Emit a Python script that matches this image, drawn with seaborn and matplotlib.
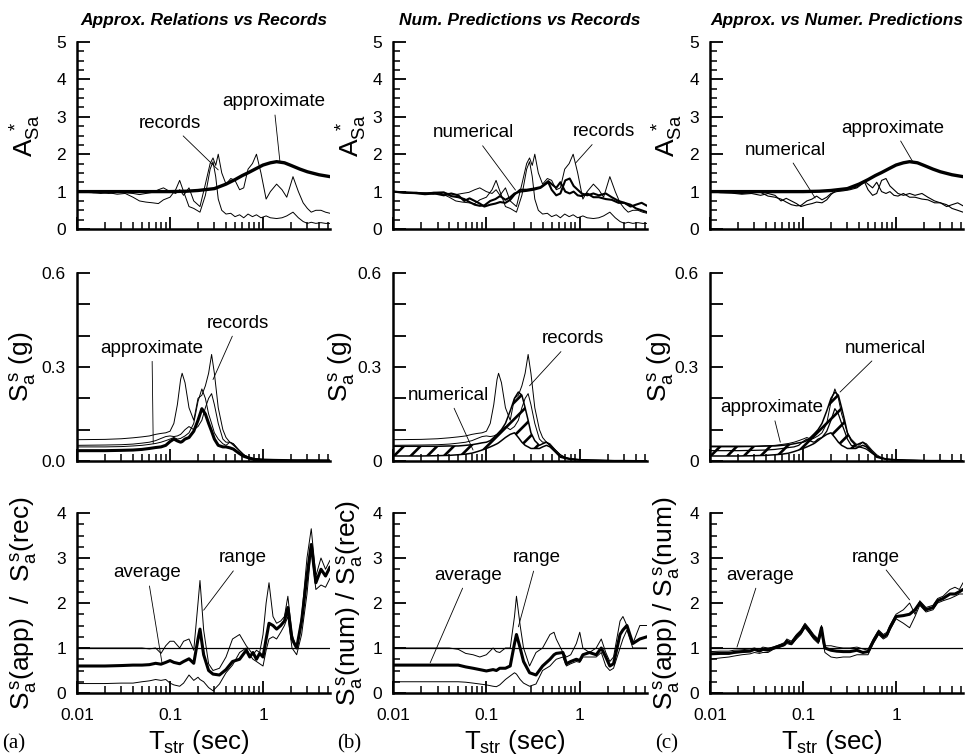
import numpy as np
import pandas as pd
import matplotlib
matplotlib.use("Agg")
import matplotlib.pyplot as plt
from matplotlib.ticker import FixedLocator, MultipleLocator, LogLocator, NullFormatter, FixedFormatter
import seaborn as sns

# ---------------------------------------------------------------- data
# Row 1: spectral amplification A*_Sa
T_rec = [0.01, 0.012, 0.015, 0.018, 0.022, 0.027, 0.033, 0.04, 0.047, 0.055, 0.065, 0.075,
         0.085, 0.1, 0.115, 0.127, 0.14, 0.16, 0.18, 0.21, 0.24, 0.27, 0.29, 0.31, 0.33, 0.36,
         0.4, 0.45, 0.5, 0.56, 0.62, 0.69, 0.77, 0.85, 0.95, 1.08, 1.2, 1.4, 1.6, 1.8, 2.1,
         2.4, 2.7, 3.0, 3.3, 3.7, 4.2, 4.7, 5.25]
A_rec1 = [1.0, 0.98, 0.97, 0.95, 0.97, 0.93, 0.95, 0.85, 0.75, 0.72, 0.7, 0.68,
          0.78, 0.85, 1.05, 1.3, 1.0, 0.6, 0.55, 0.45, 0.9, 1.6, 1.8, 1.4, 0.8, 0.5,
          0.4, 0.42, 0.33, 0.38, 0.3, 0.4, 0.33, 0.38, 0.3, 0.35, 0.3, 0.28, 0.3, 0.35, 0.45,
          0.3, 0.2, 0.15, 0.18, 0.15, 0.17, 0.15, 0.15]
A_rec2 = [1.0, 1.0, 0.97, 0.98, 0.95, 0.98, 0.97, 0.95, 0.92, 0.95, 0.98, 1.05,
          1.1, 1.0, 0.95, 1.05, 0.9, 1.1, 0.75, 0.6, 1.2, 1.75, 1.9, 1.7, 2.0, 1.5,
          1.2, 1.35, 1.3, 1.05, 1.1, 1.6, 1.75, 2.0, 1.5, 0.8, 1.0, 1.2, 1.05, 0.85, 1.4,
          1.0, 0.7, 0.55, 0.45, 0.5, 0.5, 0.45, 0.42]

T_app = [0.01, 0.03, 0.06, 0.1, 0.15, 0.2, 0.3, 0.4, 0.5, 0.6, 0.7, 0.85, 1.0, 1.2,
         1.4, 1.7, 2.0, 2.5, 3.0, 4.0, 5.25]
A_app = [1.0, 1.0, 1.0, 1.0, 1.01, 1.03, 1.08, 1.2, 1.32, 1.43, 1.51, 1.62, 1.71, 1.77,
         1.8, 1.77, 1.7, 1.6, 1.53, 1.45, 1.4]

T_num = [0.01, 0.013, 0.017, 0.022, 0.028, 0.035, 0.042, 0.05, 0.058, 0.066, 0.075, 0.085,
         0.095, 0.11, 0.125, 0.14, 0.16, 0.18, 0.2, 0.23, 0.27, 0.32, 0.38, 0.42, 0.46, 0.5,
         0.56, 0.62, 0.7, 0.78, 0.86, 0.95, 1.05, 1.2, 1.4, 1.6, 1.9, 2.2, 2.6, 3.0, 3.5,
         4.0, 4.6, 5.25]
A_num1 = [1.0, 0.98, 0.97, 0.95, 0.97, 0.98, 0.88, 0.85, 0.8, 0.72, 0.65, 0.62,
          0.63, 0.75, 0.8, 0.88, 0.78, 0.85, 0.95, 1.0, 1.02, 1.05, 1.1, 1.18, 1.25, 1.05,
          0.9, 0.95, 1.3, 1.35, 1.15, 1.05, 0.95, 0.9, 0.95, 0.9, 0.95, 0.85, 0.75, 0.7, 0.6,
          0.65, 0.7, 0.62]
A_num2 = [1.0, 0.97, 0.96, 0.93, 0.95, 0.9, 0.95, 0.9, 0.75, 0.82, 0.75, 0.68,
          0.6, 0.65, 0.68, 0.72, 0.7, 0.78, 0.92, 1.05, 1.05, 1.08, 1.12, 1.2, 1.28, 1.2,
          1.1, 1.25, 1.0, 0.95, 1.0, 0.9, 0.88, 0.95, 0.85, 0.85, 0.8, 0.78, 0.7, 0.7, 0.65,
          0.55, 0.5, 0.45]

# Row 2: structural spectral acceleration Sa (g)
T_sa = [0.01, 0.02, 0.03, 0.04, 0.05, 0.06, 0.07, 0.08, 0.09, 0.1, 0.11, 0.12, 0.13, 0.135,
        0.145, 0.16, 0.18, 0.2, 0.22, 0.24, 0.26, 0.28, 0.3, 0.33, 0.37, 0.4, 0.44, 0.48,
        0.55, 0.62, 0.7, 0.8, 1.0, 1.3, 2.0, 3.0, 5.25]
Sa_rec1 = [0.068, 0.069, 0.071, 0.074, 0.077, 0.08, 0.085, 0.088, 0.09, 0.095, 0.12, 0.18,
           0.26, 0.28, 0.25, 0.17, 0.13, 0.2, 0.21, 0.24, 0.28, 0.34, 0.28, 0.17, 0.1, 0.075,
           0.06, 0.055, 0.035, 0.02, 0.012, 0.008, 0.005, 0.003, 0.002, 0.001, 0.001]
Sa_rec2 = [0.05, 0.051, 0.052, 0.054, 0.057, 0.06, 0.065, 0.072, 0.078, 0.08, 0.078, 0.08,
           0.085, 0.09, 0.1, 0.11, 0.1, 0.11, 0.13, 0.17, 0.2, 0.215, 0.18, 0.12, 0.07, 0.06,
           0.06, 0.05, 0.035, 0.02, 0.01, 0.006, 0.004, 0.003, 0.002, 0.001, 0.001]
Sa_app1 = [0.045, 0.045, 0.046, 0.048, 0.05, 0.053, 0.056, 0.06, 0.065, 0.07, 0.075, 0.07,
           0.072, 0.075, 0.08, 0.09, 0.12, 0.19, 0.23, 0.2, 0.15, 0.12, 0.09, 0.07, 0.055, 0.05,
           0.06, 0.055, 0.035, 0.02, 0.01, 0.006, 0.004, 0.003, 0.002, 0.001, 0.001]
Sa_app2 = [0.033, 0.033, 0.034, 0.035, 0.037, 0.04, 0.043, 0.045, 0.05, 0.062, 0.07, 0.064,
           0.06, 0.062, 0.07, 0.075, 0.095, 0.13, 0.167, 0.15, 0.12, 0.095, 0.07, 0.05, 0.045,
           0.045, 0.042, 0.038, 0.025, 0.015, 0.01, 0.005, 0.003, 0.002, 0.001, 0.001, 0.0005]
Sa_num_hi = [0.047, 0.047, 0.047, 0.048, 0.048, 0.05, 0.052, 0.055, 0.058, 0.06, 0.065, 0.075,
             0.085, 0.09, 0.1, 0.12, 0.16, 0.2, 0.22, 0.21, 0.17, 0.13, 0.09, 0.065, 0.05,
             0.055, 0.06, 0.05, 0.03, 0.015, 0.01, 0.006, 0.004, 0.002, 0.001, 0.001, 0.0005]
Sa_num_lo = [0.016, 0.016, 0.017, 0.018, 0.02, 0.022, 0.025, 0.03, 0.035, 0.04, 0.045, 0.05,
             0.055, 0.058, 0.065, 0.075, 0.085, 0.09, 0.075, 0.06, 0.05, 0.045, 0.04, 0.04,
             0.04, 0.045, 0.05, 0.045, 0.028, 0.012, 0.008, 0.005, 0.003, 0.002, 0.001, 0.001,
             0.0005]

# Row 3: spectral ratios (average and range)
T_ra = [0.01, 0.02, 0.03, 0.04, 0.05, 0.06, 0.07, 0.08, 0.09, 0.1, 0.11, 0.127, 0.14, 0.16,
        0.18, 0.2, 0.21, 0.23, 0.26, 0.29, 0.34, 0.4, 0.47, 0.56, 0.66, 0.72, 0.78, 0.85,
        0.92, 1.0, 1.08, 1.16, 1.28, 1.4, 1.55, 1.7, 1.85, 2.05, 2.3, 2.6, 2.97, 3.3, 3.7,
        4.2, 4.7, 5.25]
r_app_rec_avg = [0.6, 0.6, 0.61, 0.62, 0.62, 0.63, 0.66, 0.64, 0.68, 0.72, 0.68, 0.65, 0.7,
                 0.76, 0.66, 1.2, 1.42, 0.85, 0.5, 0.42, 0.4, 0.52, 0.7, 0.75, 0.95, 0.8, 0.9,
                 0.75, 0.88, 0.8, 1.2, 1.55, 1.5, 1.42, 1.5, 1.6, 1.9, 1.2, 1.0, 1.6, 2.6, 3.3,
                 2.45, 2.75, 2.6, 2.8]
r_app_rec_hi = [1.0, 1.0, 1.0, 1.0, 1.0, 0.98, 1.0, 0.88, 1.05, 1.15, 1.15, 1.0, 1.15, 1.2,
                0.95, 2.0, 2.5, 1.4, 0.65, 0.5, 0.55, 0.8, 1.2, 1.3, 1.05, 0.95, 0.85, 0.95,
                0.9, 1.3, 2.0, 2.45, 1.7, 1.55, 1.6, 1.7, 2.15, 1.3, 1.0, 1.7, 3.0, 3.65, 2.6,
                3.0, 2.75, 2.95]
r_app_rec_lo = [0.21, 0.21, 0.22, 0.22, 0.25, 0.27, 0.3, 0.28, 0.3, 0.22, 0.18, 0.15, 0.22,
                0.4, 0.28, 0.35, 0.3, 0.25, 0.12, 0.05, 0.2, 0.45, 0.62, 0.9, 1.0, 0.85, 0.75,
                0.7, 0.65, 0.6, 0.95, 1.2, 1.25, 1.2, 1.35, 1.5, 1.7, 1.0, 0.85, 1.3, 2.2, 3.2,
                2.3, 2.4, 2.35, 2.55]

T_rb = [0.01, 0.02, 0.03, 0.04, 0.05, 0.06, 0.072, 0.085, 0.1, 0.118, 0.128, 0.139, 0.16,
        0.18, 0.2, 0.21, 0.23, 0.25, 0.29, 0.34, 0.4, 0.48, 0.53, 0.56, 0.66, 0.72, 0.8,
        0.92, 1.0, 1.08, 1.27, 1.5, 1.7, 1.9, 2.1, 2.3, 2.7, 2.9, 3.2, 3.7, 4.4, 5.25]
r_num_rec_avg = [0.62, 0.62, 0.62, 0.62, 0.62, 0.58, 0.55, 0.52, 0.49, 0.52, 0.5, 0.55, 0.55,
                 0.6, 1.1, 1.3, 1.0, 0.7, 0.45, 0.4, 0.6, 0.75, 0.85, 0.88, 0.9, 0.65, 0.7,
                 0.75, 0.72, 0.85, 0.9, 0.85, 1.0, 0.8, 0.6, 0.65, 1.3, 1.4, 1.5, 1.1, 1.2, 1.25]
r_num_rec_hi = [1.0, 1.0, 1.0, 1.0, 0.97, 0.88, 0.85, 0.8, 0.85, 1.0, 0.92, 0.9, 1.0, 1.0,
                1.7, 2.15, 1.5, 1.0, 0.6, 0.9, 1.0, 1.3, 1.35, 1.2, 0.9, 0.8, 0.85, 1.1, 1.35,
                1.0, 0.9, 1.0, 1.2, 0.9, 0.7, 0.8, 1.6, 1.7, 1.5, 1.1, 1.5, 1.5]
r_num_rec_lo = [0.25, 0.25, 0.25, 0.25, 0.25, 0.24, 0.22, 0.2, 0.18, 0.15, 0.14, 0.18, 0.3,
                0.38, 0.45, 0.42, 0.3, 0.22, 0.15, 0.2, 0.5, 0.6, 0.7, 0.75, 0.8, 0.6, 0.65,
                0.7, 0.68, 0.8, 0.8, 0.8, 0.9, 0.6, 0.5, 0.55, 1.0, 1.2, 1.4, 1.0, 1.0, 1.0]

T_rc = [0.01, 0.013, 0.016, 0.018, 0.022, 0.027, 0.03, 0.034, 0.037, 0.042, 0.048, 0.057,
        0.063, 0.067, 0.075, 0.085, 0.095, 0.105, 0.115, 0.13, 0.146, 0.158, 0.165, 0.172,
        0.2, 0.23, 0.27, 0.32, 0.38, 0.44, 0.5, 0.57, 0.65, 0.73, 0.8, 0.86, 1.0, 1.2, 1.4,
        1.6, 1.8, 2.1, 2.5, 2.8, 3.2, 3.8, 4.3, 4.8, 5.25]
r_app_num_avg = [0.87, 0.88, 0.88, 0.9, 0.92, 0.93, 0.97, 0.93, 0.97, 0.95, 1.0, 1.05, 1.08,
                 1.15, 1.1, 1.25, 1.35, 1.5, 1.4, 1.25, 1.15, 1.45, 1.2, 1.0, 0.95, 0.93, 0.92,
                 0.92, 0.95, 0.9, 0.92, 1.15, 1.35, 1.25, 1.3, 1.45, 1.7, 1.72, 1.75, 1.85, 2.0,
                 1.85, 1.9, 2.05, 2.1, 2.2, 2.2, 2.25, 2.3]
r_app_num_hi = [0.92, 0.93, 0.93, 0.95, 0.96, 0.98, 1.0, 0.97, 1.02, 1.0, 1.02, 1.08, 1.12,
                1.2, 1.15, 1.3, 1.4, 1.55, 1.45, 1.3, 1.2, 1.5, 1.25, 1.05, 1.05, 1.02, 1.0,
                1.0, 1.02, 0.98, 0.95, 1.2, 1.4, 1.3, 1.35, 1.5, 1.75, 1.85, 2.0, 1.75, 2.05,
                1.9, 1.95, 2.1, 2.15, 2.3, 2.35, 2.3, 2.45]
r_app_num_lo = [0.75, 0.78, 0.8, 0.82, 0.85, 0.87, 0.9, 0.88, 0.9, 0.9, 0.97, 1.02, 1.05,
                1.1, 1.07, 1.2, 1.3, 1.45, 1.35, 1.2, 1.1, 1.35, 1.1, 0.9, 0.8, 0.78, 0.8,
                0.8, 0.85, 0.85, 0.85, 1.1, 1.3, 1.2, 1.25, 1.4, 1.65, 1.55, 1.45, 1.7, 1.95,
                1.8, 1.85, 2.0, 2.05, 2.1, 2.15, 2.2, 2.2]

titles = ["Approx. Relations vs Records", "Num. Predictions vs Records",
          "Approx. vs Numer. Predictions"]
panel_tags = ["(a)", "(b)", "(c)"]
x_tick_labels = ["0.01", "0.1", "1"]

# ---------------------------------------------------------------- style
sns.set_theme(style="ticks")
plt.rcParams["font.family"] = ["Liberation Sans", "DejaVu Sans"]
plt.rcParams["mathtext.fontset"] = "custom"
plt.rcParams["mathtext.rm"] = "Liberation Sans"
plt.rcParams["mathtext.it"] = "Liberation Sans:italic"
plt.rcParams["mathtext.bf"] = "Liberation Sans:bold"
plt.rcParams["mathtext.sf"] = "Liberation Sans"
plt.rcParams["hatch.linewidth"] = 1.9
plt.rcParams["axes.linewidth"] = 1.8

W, H = 970, 756
fig = plt.figure(figsize=(W / 100, H / 100), dpi=100)
fig.patch.set_facecolor("white")

col_left = [77, 393, 710]
col_width = [253, 254, 253]
row_top = [42, 273, 513]
row_height = [187, 188, 180]

axes = [[None] * 3 for _ in range(3)]
for r in range(3):
    for c in range(3):
        rect = [col_left[c] / W, 1 - (row_top[r] + row_height[r]) / H,
                col_width[c] / W, row_height[r] / H]
        axes[r][c] = fig.add_axes(rect)


def curve(ax, T, v, lw):
    df = pd.DataFrame({"T": T, "v": v})
    sns.lineplot(data=df, x="T", y="v", ax=ax, color="black", lw=lw,
                 estimator=None, sort=False, legend=False)


def note(ax, text, xy, xytext):
    ax.annotate(text, xy=xy, xytext=xytext, textcoords="data", ha="center", va="center",
                fontsize=13.5, color="black",
                arrowprops=dict(arrowstyle="-", color="black", lw=0.6, shrinkA=1, shrinkB=0))


def band(ax, T, lo, hi):
    ax.fill_between(T, lo, hi, facecolor="none", edgecolor="black", hatch="//", linewidth=0)
    curve(ax, T, hi, 1.1)
    curve(ax, T, lo, 1.1)


def style_axes(ax, r, c):
    ax.set_facecolor("white")
    ax.grid(False)
    ax.set_xscale("log")
    ax.set_xlim(0.01, 5.25)
    for s in ["top", "right"]:
        ax.spines[s].set_visible(False)
    for s in ["left", "bottom"]:
        ax.spines[s].set_linewidth(1.8)
        ax.spines[s].set_color("black")
    ax.xaxis.set_major_locator(FixedLocator([0.01, 0.1, 1]))
    ax.xaxis.set_major_formatter(FixedFormatter(x_tick_labels))
    ax.xaxis.set_minor_locator(LogLocator(base=10, subs=np.arange(2, 10), numticks=30))
    ax.xaxis.set_minor_formatter(NullFormatter())
    ax.tick_params(which="major", direction="in", length=9, width=1.3, color="black",
                   labelsize=12.5, labelcolor="black")
    ax.tick_params(which="minor", direction="in", length=5, width=1.1, color="black")
    ax.tick_params(axis="x", which="major", pad=11)
    ax.tick_params(axis="y", which="major", pad=8)
    ax.tick_params(labelbottom=(r == 2))
    ax.set_xlabel("")
    ax.set_ylabel("")
    if r == 0:
        ax.set_ylim(0, 5)
        ax.yaxis.set_major_locator(MultipleLocator(1))
        ax.yaxis.set_minor_locator(MultipleLocator(0.25))
    elif r == 1:
        ax.set_ylim(0, 0.6)
        ax.yaxis.set_major_locator(FixedLocator([0, 0.1, 0.2, 0.3, 0.4, 0.5, 0.6]))
        zero = "0.0" if c == 0 else "0"
        ax.yaxis.set_major_formatter(FixedFormatter([zero, "", "", "0.3", "", "", "0.6"]))
    else:
        ax.set_ylim(0, 4)
        ax.yaxis.set_major_locator(MultipleLocator(1))
        ax.yaxis.set_minor_locator(MultipleLocator(0.25))


# ---------------------------------------------------------------- row 1
ax = axes[0][0]
curve(ax, T_rec, A_rec1, 0.7)
curve(ax, T_rec, A_rec2, 0.7)
curve(ax, T_app, A_app, 2.4)
note(ax, "records", (0.33, 1.58), (0.1, 2.83))
note(ax, "approximate", (1.52, 1.8), (1.3, 3.4))

ax = axes[0][1]
curve(ax, T_rec, A_rec1, 0.7)
curve(ax, T_rec, A_rec2, 0.7)
curve(ax, T_num, A_num1, 1.5)
curve(ax, T_num, A_num2, 1.5)
note(ax, "numerical", (0.205, 1.04), (0.072, 2.57))
note(ax, "records", (0.9, 1.76), (1.8, 2.6))

ax = axes[0][2]
curve(ax, T_num, A_num1, 0.8)
curve(ax, T_num, A_num2, 0.8)
curve(ax, T_app, A_app, 2.4)
note(ax, "approximate", (1.52, 1.79), (0.93, 2.7))
note(ax, "numerical", (0.135, 0.83), (0.064, 2.11))

# ---------------------------------------------------------------- row 2
ax = axes[1][0]
curve(ax, T_sa, Sa_rec1, 0.7)
curve(ax, T_sa, Sa_rec2, 0.7)
curve(ax, T_sa, Sa_app1, 0.7)
curve(ax, T_sa, Sa_app2, 2.2)
note(ax, "approximate", (0.066, 0.055), (0.064, 0.36))
note(ax, "records", (0.29, 0.26), (0.54, 0.44))

ax = axes[1][1]
band(ax, T_sa, Sa_num_lo, Sa_num_hi)
curve(ax, T_sa, Sa_rec1, 0.7)
curve(ax, T_sa, Sa_rec2, 0.7)
note(ax, "numerical", (0.072, 0.035), (0.039, 0.21))
note(ax, "records", (0.29, 0.24), (0.84, 0.39))

ax = axes[1][2]
band(ax, T_sa, Sa_num_lo, Sa_num_hi)
curve(ax, T_sa, Sa_app1, 0.7)
curve(ax, T_sa, Sa_app2, 0.9)
note(ax, "numerical", (0.25, 0.22), (0.76, 0.36))
note(ax, "approximate", (0.057, 0.06), (0.046, 0.17))

# ---------------------------------------------------------------- row 3
ratio_sets = [(T_ra, r_app_rec_avg, r_app_rec_hi, r_app_rec_lo),
              (T_rb, r_num_rec_avg, r_num_rec_hi, r_num_rec_lo),
              (T_rc, r_app_num_avg, r_app_num_hi, r_app_num_lo)]
for c, (T, avg, hi, lo) in enumerate(ratio_sets):
    ax = axes[2][c]
    ax.axhline(1.0, color="black", lw=0.9)
    curve(ax, T, hi, 0.7)
    curve(ax, T, lo, 0.7)
    curve(ax, T, avg, 2.2)

note(axes[2][0], "average", (0.082, 0.67), (0.057, 2.67))
note(axes[2][0], "range", (0.23, 1.84), (0.61, 3.0))
note(axes[2][1], "average", (0.025, 0.67), (0.064, 2.62))
note(axes[2][1], "range", (0.22, 1.47), (0.35, 3.0))
note(axes[2][2], "average", (0.0195, 1.02), (0.0345, 2.62))
note(axes[2][2], "range", (1.4, 2.07), (0.61, 3.02))

# ---------------------------------------------------------------- labels
ylabels = [
    [r"$\mathrm{A_{Sa}^{\ *}}$"] * 3,
    [r"$\mathrm{S_a^{\,s}\ (g)}$"] * 3,
    [r"$\mathrm{S_a^{\,s}(app)\ \ /\ \ S_a^{\,s}(rec)}$",
     r"$\mathrm{S_a^{\,s}(num)\ /\ S_a^{\,s}(rec)}$",
     r"$\mathrm{S_a^{\,s}(app)\ /\ S_a^{\,s}(num)}$"],
]
ylabel_x = [[26, 352, 668], [23, 342, 661], [24, 350, 667]]

for r in range(3):
    for c in range(3):
        ax = axes[r][c]
        style_axes(ax, r, c)
        xc = (ylabel_x[r][c] - col_left[c]) / col_width[c]
        ax.set_ylabel(ylabels[r][c], fontsize=19, color="black", va="center")
        ax.yaxis.set_label_coords(xc, 0.5)

for c in range(3):
    axes[0][c].set_title(titles[c], fontsize=12.5, fontweight="bold", fontstyle="italic",
                         color="black", pad=12)
    axes[2][c].set_xlabel(r"$\mathrm{T_{str}}$ (sec)", fontsize=18.5, color="black",
                          va="center")
    axes[2][c].xaxis.set_label_coords(0.48, -0.275)

tag_x = [2, 337, 655]
for c, tag in enumerate(panel_tags):
    fig.text(tag_x[c] / W, 1 - 744 / H, tag, fontsize=15,
             family=["Liberation Serif", "DejaVu Serif"], color="black",
             ha="left", va="center")

fig.savefig("out.png", dpi=100, facecolor="white")
